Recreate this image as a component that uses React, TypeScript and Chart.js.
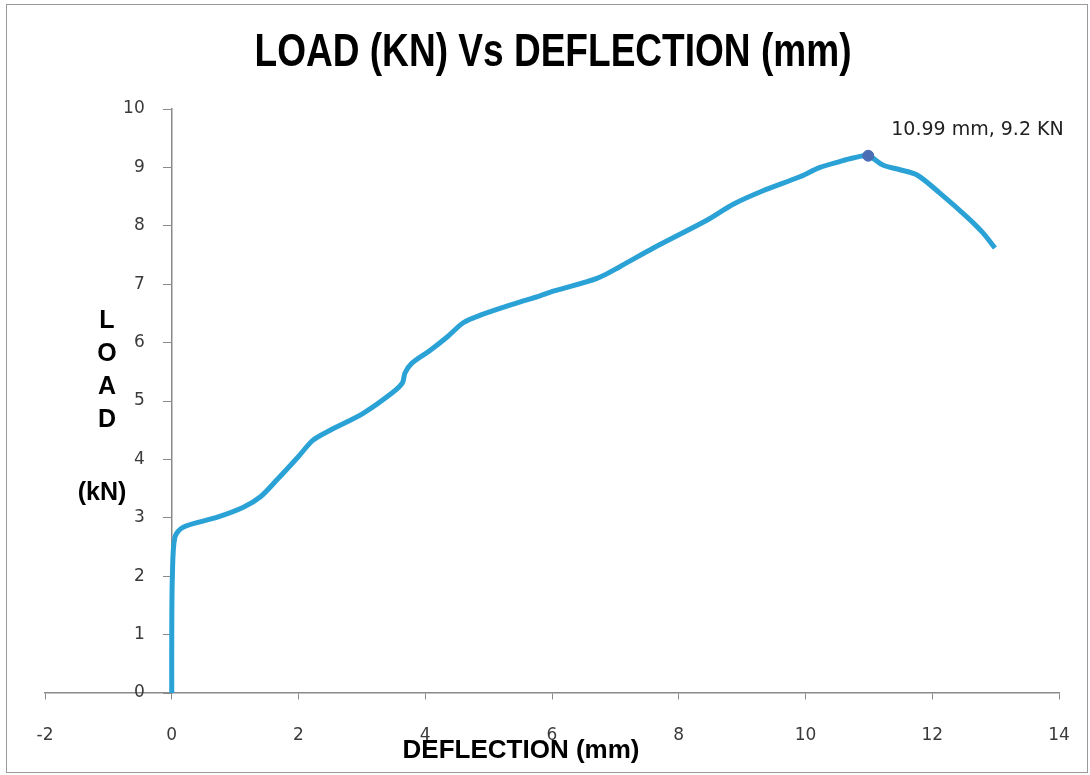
import React, { useEffect, useRef } from "react";
import { Chart, registerables } from "chart.js";

Chart.register(...registerables);

// ---- data ----
const deflection = [
  0, 0, 0.01, 0.05, 0.18, 0.72, 1.13, 1.4, 1.66, 2.0, 2.23, 2.5, 3.02, 3.49, 3.64, 3.68,
  3.79, 4.08, 4.35, 4.6, 4.87, 5.39, 5.81, 6.02, 6.71, 7.07, 7.6, 8.45, 8.86, 9.33, 9.91,
  10.23, 10.54, 10.75, 10.99, 11.22, 11.49, 11.76, 12.12, 12.55, 12.8, 12.99,
];
const load = [
  0, 1, 2.0, 2.67, 2.84, 3.01, 3.18, 3.36, 3.65, 4.05, 4.33, 4.5, 4.79, 5.15, 5.31, 5.48,
  5.65, 5.87, 6.1, 6.34, 6.47, 6.66, 6.8, 6.88, 7.1, 7.3, 7.62, 8.1, 8.37, 8.6, 8.84,
  9.0, 9.1, 9.16, 9.2, 9.04, 8.96, 8.87, 8.56, 8.15, 7.88, 7.62,
];
const peakDeflection = [10.99];
const peakLoad = [9.2];
const peakLabel = "10.99 mm, 9.2 KN";

const chartTitle = "LOAD (KN) Vs DEFLECTION (mm)";
const xAxisTitle = "DEFLECTION (mm)";
const yAxisTitleLetters = ["L", "O", "A", "D"];
const yAxisTitleUnit = "(kN)";

const xMin = -2;
const xMax = 14;
const xStep = 2;
const yMin = 0;
const yMax = 10;
const yStep = 1;

const LINE_COLOR = "#2aa2d6";
const MARKER_COLOR = "#4a6db3";
const AXIS_COLOR = "#8a8a8a";
const TICK_FONT = { family: "'DejaVu Sans', sans-serif", size: 17 };
const TICK_COLOR = "#3a3a3a";
// gap between the centred y axis and its right-aligned tick labels
const Y_LABEL_GAP = "     ";

export default function App() {
  const canvasRef = useRef<HTMLCanvasElement | null>(null);

  useEffect(() => {
    if (!canvasRef.current) return;

    const textPlugin = {
      id: "chartTexts",
      afterDraw(chart: any) {
        const ctx = chart.ctx as CanvasRenderingContext2D;
        const a = chart.chartArea;
        ctx.save();
        ctx.fillStyle = "#000";
        ctx.textAlign = "center";
        ctx.textBaseline = "middle";
        // main title (condensed horizontally like the original Calibri-style title)
        ctx.font = "bold 46px 'Liberation Sans', Arial, sans-serif";
        const w = ctx.measureText(chartTitle).width;
        const sx = 597 / w;
        ctx.save();
        ctx.translate(553, 53);
        ctx.scale(sx, 1);
        ctx.fillText(chartTitle, 0, 0);
        ctx.restore();
        // x axis title
        ctx.font = "bold 26px 'Liberation Sans', Arial, sans-serif";
        ctx.fillText(xAxisTitle, 521, 751);
        // y axis title (stacked letters)
        ctx.font = "bold 25px 'Liberation Sans', Arial, sans-serif";
        const lettersY = [321, 354, 387, 420];
        yAxisTitleLetters.forEach((ch, i) => ctx.fillText(ch, a.left + 62, lettersY[i]));
        ctx.fillText(yAxisTitleUnit, a.left + 57, 493);
        // peak data label
        const px = chart.scales.x.getPixelForValue(peakDeflection[0]);
        const py = chart.scales.y.getPixelForValue(peakLoad[0]);
        ctx.fillStyle = "#222";
        ctx.textAlign = "left";
        ctx.font = "19px 'DejaVu Sans', sans-serif";
        ctx.fillText(peakLabel, px + 23, py - 26);
        ctx.restore();
      },
    };

    const chart = new Chart(canvasRef.current, {
      type: "scatter",
      data: {
        datasets: [
          {
            label: "Peak",
            data: peakDeflection.map((x, i) => ({ x, y: peakLoad[i] })),
            showLine: false,
            pointRadius: 5.5,
            pointBackgroundColor: MARKER_COLOR,
            pointBorderColor: MARKER_COLOR,
            order: 1,
          },
          {
            label: "Load",
            data: deflection.map((x, i) => ({ x, y: load[i] })),
            showLine: true,
            borderColor: LINE_COLOR,
            borderWidth: 5,
            pointRadius: 0,
            tension: 0.3,
            fill: false,
            order: 2,
          },
        ],
      },
      options: {
        animation: false,
        responsive: false,
        layout: { autoPadding: false, padding: { left: 45, right: 31, top: 109, bottom: 82 } },
        plugins: {
          legend: { display: false },
          tooltip: { enabled: false },
          title: { display: false },
        },
        scales: {
          x: {
            type: "linear",
            position: { y: 0 } as any,
            min: xMin,
            max: xMax,
            ticks: {
              stepSize: xStep,
              font: { ...TICK_FONT, lineHeight: 1.95 },
              color: TICK_COLOR,
              padding: 20,
            },
            grid: { drawOnChartArea: false, drawTicks: true, tickLength: 6, color: AXIS_COLOR },
            border: { color: AXIS_COLOR, width: 1.5 },
          },
          y: {
            type: "linear",
            position: { x: 0 } as any,
            min: yMin,
            max: yMax,
            ticks: {
              stepSize: yStep,
              font: TICK_FONT,
              color: TICK_COLOR,
              callback: (v: any) => String(v) + Y_LABEL_GAP,
            },
            grid: { drawOnChartArea: false, drawTicks: true, tickLength: 8, color: AXIS_COLOR },
            border: { color: AXIS_COLOR, width: 1.5 },
          },
        },
      },
      plugins: [textPlugin],
    });

    return () => chart.destroy();
  }, []);

  return (
    <div style={{ position: "absolute", left: 0, top: 0, width: 1090, height: 775, background: "#fff" }}>
      <div
        style={{
          position: "absolute",
          left: 6,
          top: 4,
          width: 1080,
          height: 767,
          border: "1px solid #9a9a9a",
        }}
      />
      <canvas
        ref={canvasRef}
        width={1090}
        height={775}
        style={{ position: "absolute", left: 0, top: 0 }}
      />
    </div>
  );
}
